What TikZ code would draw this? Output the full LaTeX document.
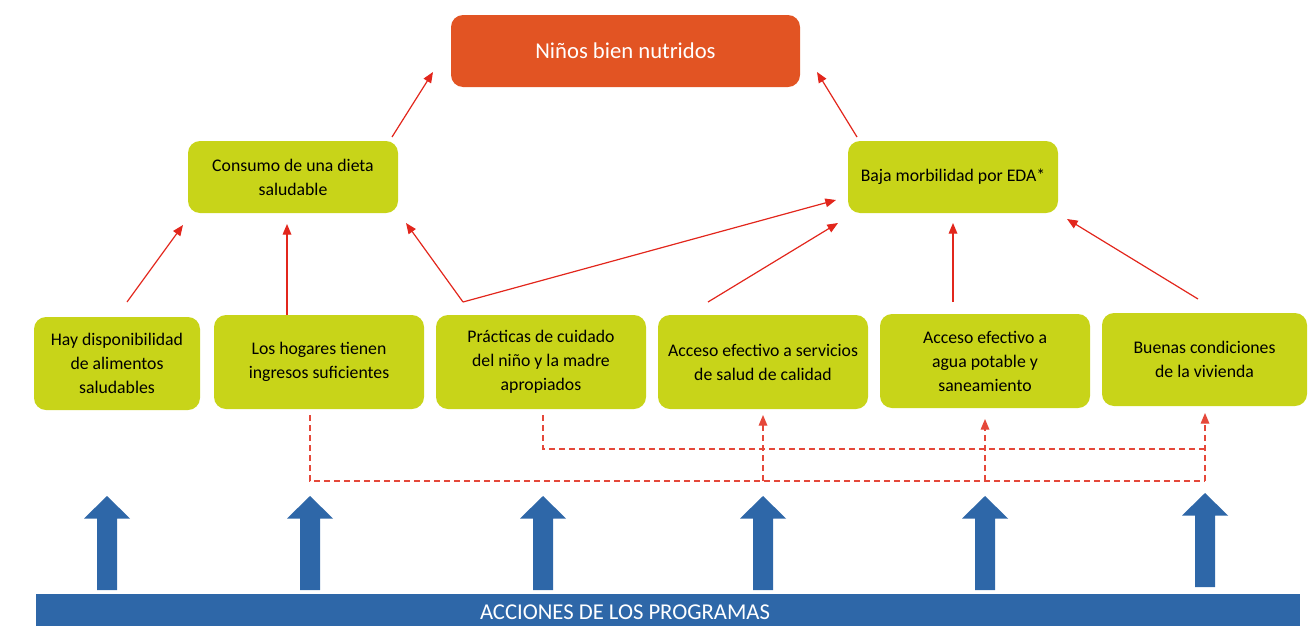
\documentclass[tikz,border=0pt]{standalone}
\usepackage{fontspec}
\setmainfont{Carlito}
\usetikzlibrary{arrows.meta}
\definecolor{limeC}{HTML}{C8D419}
\definecolor{orangeC}{HTML}{E25423}
\definecolor{redC}{HTML}{E2261C}
\definecolor{dashC}{HTML}{E5483A}
\definecolor{blueC}{HTML}{2E67A8}
\begin{document}
\begin{tikzpicture}[x=0.75pt,y=-0.75pt,
  box/.style={fill=limeC,rounded corners=9pt,inner sep=0pt,align=center,
    font=\fontsize{13.3}{18}\selectfont,text=black},
  topbox/.style={fill=orangeC,rounded corners=9pt,inner sep=0pt,align=center,
    font=\fontsize{17}{20}\selectfont,text=white},
  link/.style={draw=redC,line width=0.9pt,-{Triangle[length=8pt,width=6.5pt]}},
  dlink/.style={draw=dashC,line width=0.9pt,dash pattern=on 4.5pt off 3pt},
  dtip/.style={-{Triangle[length=8pt,width=6.5pt]}},
  uparr/.pic={\fill[blueC] (0,0) -- (23,22.5) -- (10,22.5) -- (10,94) -- (-10,94) -- (-10,22.5) -- (-23,22.5) -- cycle;},
  bar/.style={fill=blueC,inner sep=0pt},
  bartext/.style={text=white,inner sep=0pt,font=\fontsize{17}{20}\selectfont}
]
\useasboundingbox (0,0) rectangle (1316,625);

% boxes
\node[topbox,minimum width=261.75pt,minimum height=54pt] (top) at (625.5,51) {Niños bien nutridos};
\node[box,minimum width=157.5pt,minimum height=54pt] (cons) at (293,177) {Consumo de una dieta\\saludable};
\node[box,minimum width=157.5pt,minimum height=54pt] (baja) at (953,177) {Baja morbilidad por EDA*};

\node[box,minimum width=124.5pt,minimum height=69.75pt] (b1) at (117,363.5) {Hay disponibilidad\\de alimentos\\saludables};
\node[box,minimum width=157.5pt,minimum height=70.5pt] (b2) at (319,362) {Los hogares tienen\\ingresos suficientes};
\node[box,minimum width=157.5pt,minimum height=70.5pt] (b3) at (541,362) {Prácticas de cuidado\\del niño y la madre\\apropiados};
\node[box,minimum width=157.5pt,minimum height=70.5pt] (b4) at (763,362) {Acceso efectivo a servicios\\de salud de calidad};
\node[box,minimum width=157.5pt,minimum height=70.5pt] (b5) at (985,361) {Acceso efectivo a\\agua potable y\\saneamiento};
\node[box,minimum width=153.75pt,minimum height=69.75pt] (b6) at (1204.5,359.5) {Buenas condiciones\\de la vivienda};

% arrow end points
\coordinate (a1s) at (392,137); \coordinate (a1e) at (433,72);
\coordinate (a2s) at (857,137); \coordinate (a2e) at (817,72);
\coordinate (a3s) at (127,302); \coordinate (a3e) at (183,225);
\coordinate (a4s) at (287,315); \coordinate (a4e) at (287,224);
\coordinate (a5s) at (463,302); \coordinate (a5e) at (406,223); \coordinate (a5f) at (836,200);
\coordinate (a6s) at (708,302); \coordinate (a6e) at (838,223);
\coordinate (a7s) at (953,302); \coordinate (a7e) at (953,223);
\coordinate (a8s) at (1198,299); \coordinate (a8e) at (1067,219);

\draw[link] (a1s) -- (a1e);
\draw[link] (a2s) -- (a2e);
\draw[link] (a3s) -- (a3e);
\draw[link] (a4s) -- (a4e);
\draw[link] (a5s) -- (a5e);
\draw[link] (a5s) -- (a5f);
\draw[link] (a6s) -- (a6e);
\draw[link] (a7s) -- (a7e);
\draw[link] (a8s) -- (a8e);

% dashed connectors
\coordinate (dA) at (310,415);
\coordinate (dAc) at (310,481);
\coordinate (dR) at (1205,481);
\coordinate (dRt) at (1205,413);
\coordinate (dB) at (543,415);
\coordinate (dBr) at (1205,449);
\coordinate (d4) at (763,481); \coordinate (d4t) at (763,415);
\coordinate (d5) at (985,481); \coordinate (d5t) at (985,419);

\draw[dlink] (dA) -- (dAc) -- (dR);
\draw[dlink,dtip] (dR) -- (dRt);
\draw[dlink] (dB) |- (dBr);
\draw[dlink,dtip] (d4) -- (d4t);
\draw[dlink,dtip] (d5) -- (d5t);

% blue arrows and bar
\pic at (107,496) {uparr};
\pic at (310,496) {uparr};
\pic at (543,496) {uparr};
\pic at (763,496) {uparr};
\pic at (985,496) {uparr};
\pic at (1205,493) {uparr};

\node[bar,anchor=north west,minimum width=948pt,minimum height=30pt] (bar) at (36,594) {};
\node[bartext] (acc) at (625,612) {ACCIONES DE LOS PROGRAMAS};
\end{tikzpicture}
\end{document}
